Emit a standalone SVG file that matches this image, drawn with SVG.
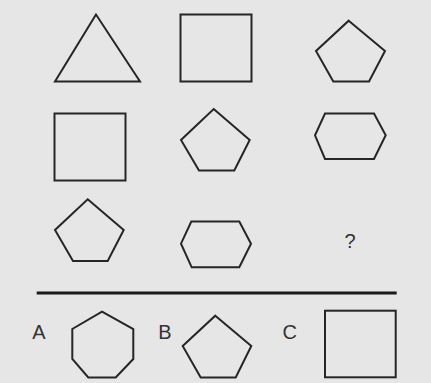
<svg xmlns="http://www.w3.org/2000/svg" width="431" height="383" viewBox="0 0 431 383">
<style>
.s{fill:none;stroke:#262626;stroke-width:2;stroke-linejoin:miter}
.t{font-family:"Liberation Sans",Arial,sans-serif;fill:#333}
</style>
<rect width="431" height="383" fill="#e6e6e6"/>
<g id="r1c1"><polygon class="s" points="96,14.5 55,81.5 140,81.5"/></g>
<g id="r1c2"><rect class="s" x="180.5" y="14.5" width="71" height="67"/></g>
<g id="r1c3"><polygon class="s" points="348.7,20.7 385,51 369,81.5 333.3,81.5 316,51"/></g>
<g id="r2c1"><rect class="s" x="54.5" y="113.5" width="71" height="67"/></g>
<g id="r2c2"><polygon class="s" points="213.7,109 249.7,140 234.3,170.5 199,170.5 181,140"/></g>
<g id="r2c3"><polygon class="s" points="325,113.5 374,113.5 385.7,135.3 374,159 325,159 315,135.3"/></g>
<g id="r3c1"><polygon class="s" points="87.7,199.3 123.7,230 107.7,261 73,261 55,230"/></g>
<g id="r3c2"><polygon class="s" points="191.3,221.5 239.3,221.5 251,243.7 239.3,267.3 191.7,267.3 181,243.7"/></g>
<g id="r3c3"><text class="t" x="350" y="248" font-size="20" text-anchor="middle">?</text></g>
<line x1="36.7" y1="293" x2="396.7" y2="293" stroke="#1a1a1a" stroke-width="3"/>
<g id="optA">
<text class="t" x="39" y="338.5" font-size="20" text-anchor="middle">A</text>
<polygon class="s" points="102,311.7 133.3,329 133.3,359 115.7,377.5 88.3,377.5 72.3,359 72.3,329"/>
</g>
<g id="optB">
<text class="t" x="165" y="338.5" font-size="20" text-anchor="middle">B</text>
<polygon class="s" points="215.3,315.7 251.3,346 235.7,377.5 200.7,377.5 182.7,346"/>
</g>
<g id="optC">
<text class="t" x="289.7" y="338.5" font-size="20" text-anchor="middle">C</text>
<rect class="s" x="325" y="310.7" width="70.7" height="66.6"/>
</g>
</svg>
